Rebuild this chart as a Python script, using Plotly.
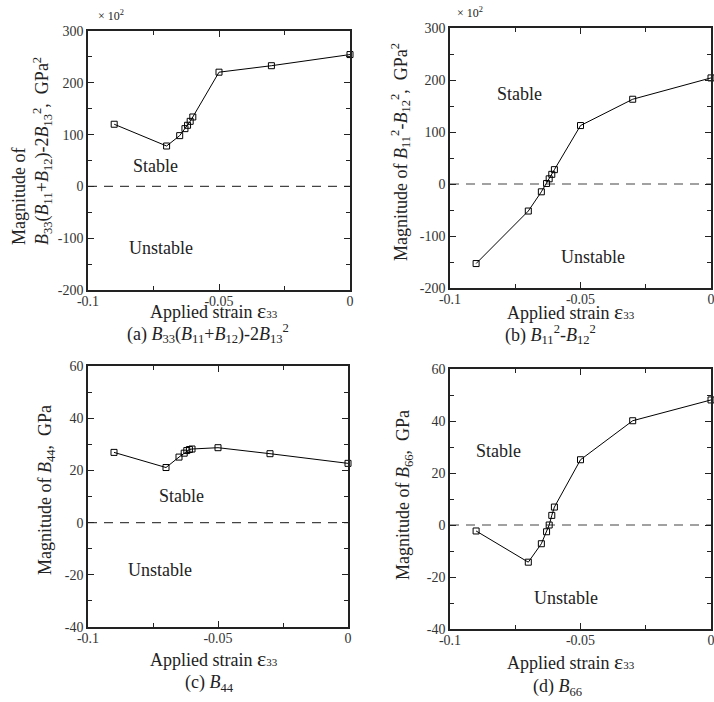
import plotly.graph_objects as go

W, H = 714, 702

# ---- data ----
STRAIN = [-0.09, -0.07, -0.065, -0.063, -0.062, -0.061, -0.06, -0.05, -0.03, 0.0]
VAL_A = [120, 78, 98, 111.5, 118, 125.6, 134, 220.5, 233, 254.5]        # x10^2 GPa^2
VAL_B = [-153, -52, -15, 1, 10, 18.6, 27.6, 112.4, 163, 204]             # x10^2 GPa^2
VAL_C = [26.9, 21.1, 25.1, 26.6, 27.6, 28.0, 28.2, 28.7, 26.4, 22.7]     # GPa
VAL_D = [-2.3, -14.3, -7.2, -2.6, 0.0, 3.7, 6.9, 25.1, 40.1, 48.1]       # GPa
ZERO_X = [-0.1, 0.0]
ZERO_Y = [0, 0]

X_TICKS = [-0.1, -0.05, 0]
X_TICK_TEXT = ["-0.1", "-0.05", "0"]
Y_TICKS_AB = [-200, -100, 0, 100, 200, 300]
Y_TICK_TEXT_AB = ["-200", "-100", "0", "100", "200", "300"]
Y_TICKS_CD = [-40, -20, 0, 20, 40, 60]
Y_TICK_TEXT_CD = ["-40", "-20", "0", "20", "40", "60"]

FONT = "Liberation Serif"
AX = "#222222"

# panel pixel rectangles (left, top, right, bottom)
PANELS = [
    ("x", "y", (88, 31, 350, 290), VAL_A, [-200, 300], Y_TICKS_AB, Y_TICK_TEXT_AB, 50),
    ("x2", "y2", (450, 28, 711, 288), VAL_B, [-200, 300], Y_TICKS_AB, Y_TICK_TEXT_AB, 50),
    ("x3", "y3", (88, 366, 348, 627), VAL_C, [-40, 60], Y_TICKS_CD, Y_TICK_TEXT_CD, 10),
    ("x4", "y4", (450, 369, 711, 629), VAL_D, [-40, 60], Y_TICKS_CD, Y_TICK_TEXT_CD, 10),
]

fig = go.Figure()
layout = dict(
    width=W, height=H, margin=dict(l=0, r=0, t=0, b=0, autoexpand=False),
    paper_bgcolor="white", plot_bgcolor="white", showlegend=False,
    font=dict(family=FONT, color="#222"),
)

for xa, ya, (l, t, r, b), vals, yr, yt, ytt, ymin in PANELS:
    fig.add_trace(go.Scatter(x=ZERO_X, y=ZERO_Y, xaxis=xa, yaxis=ya, mode="lines",
                             line=dict(color="#444", width=1.2, dash="9px,7px"),
                             hoverinfo="skip"))
    fig.add_trace(go.Scatter(x=STRAIN, y=vals, xaxis=xa, yaxis=ya, mode="lines+markers",
                             line=dict(color="black", width=1),
                             marker=dict(symbol="square-open", size=6,
                                         color="black", line=dict(width=1, color="black")),
                             cliponaxis=False))
    xkey = "xaxis" + xa[1:]
    ykey = "yaxis" + ya[1:]
    layout[xkey] = dict(
        domain=[l / W, r / W], anchor=ya, range=[-0.1, 0], automargin=False,
        tickvals=X_TICKS, ticktext=X_TICK_TEXT, ticklabelstandoff=-3,
        ticklabeloverflow="allow",
        ticks="inside", ticklen=6, tickwidth=1.2, tickcolor=AX,
        minor=dict(dtick=0.025, tick0=0, ticks="inside", ticklen=4, tickwidth=1, tickcolor=AX),
        showline=True, linecolor=AX, linewidth=1.5, mirror="ticks",
        showgrid=False, zeroline=False,
        tickfont=dict(family=FONT, size=14, color="#333"),
    )
    layout[ykey] = dict(
        domain=[1 - b / H, 1 - t / H], anchor=xa, range=yr, automargin=False,
        tickvals=yt, ticktext=ytt, ticklabeloverflow="allow",
        ticks="inside", ticklen=6, tickwidth=1.2, tickcolor=AX,
        minor=dict(dtick=ymin, tick0=0, ticks="inside", ticklen=4, tickwidth=1, tickcolor=AX),
        showline=True, linecolor=AX, linewidth=1.5, mirror="ticks",
        showgrid=False, zeroline=False,
        tickfont=dict(family=FONT, size=14, color="#333"),
    )

fig.update_layout(**layout)

def ann(text, px, py, size=18, angle=0, align="center", color="#222"):
    fig.add_annotation(text=text, x=px / W, y=1 - py / H, xref="paper", yref="paper",
                       showarrow=False, xanchor="center", yanchor="middle",
                       textangle=angle, align=align,
                       font=dict(family=FONT, size=size, color=color))

NB = "\u00a0"
XT = "Applied strain " + "<span style='font-size:22px'>ε</span><span style='font-size:11px'>33</span>"

# x-axis titles
ann(XT, 214, 310)
ann(XT, 571, 311)
ann(XT, 214, 658)
ann(XT, 571, 661)

# captions
ann("(a) <i>B</i><sub>33</sub>(<i>B</i><sub>11</sub>+<i>B</i><sub>12</sub>)-2<i>B</i><sub>13</sub><sup>2</sup>", 208, 333)
ann("(b) <i>B</i><sub>11</sub><sup>2</sup>-<i>B</i><sub>12</sub><sup>2</sup>", 550, 335)
ann("(c) <i>B</i><sub>44</sub>", 209, 683)
ann("(d) <i>B</i><sub>66</sub>", 557, 687)

# y-axis titles
ann("Magnitude of<br><i>B</i><sub>33</sub>(<i>B</i><sub>11</sub>+<i>B</i><sub>12</sub>)-2<i>B</i><sub>13</sub><sup>2</sup>," + NB * 2 + "GPa<sup>2</sup>",
    32, 151, angle=-90, align="left")
ann("Magnitude of <i>B</i><sub>11</sub><sup>2</sup>-<i>B</i><sub>12</sub><sup>2</sup>," + NB * 2 + "GPa<sup>2</sup>",
    401, 152, angle=-90)
ann("Magnitude of <i>B</i><sub>44</sub>," + NB * 2 + "GPa", 46, 490, angle=-90)
ann("Magnitude of <i>B</i><sub>66</sub>," + NB * 2 + "GPa", 404, 495, angle=-90)

# multipliers
ann("× 10<sup>2</sup>", 111, 15, size=12)
ann("× 10<sup>2</sup>", 470, 12, size=12)

# region labels
ann("Stable", 155, 166)
ann("Unstable", 161, 248)
ann("Stable", 519, 94)
ann("Unstable", 593, 257)
ann("Stable", 181, 496)
ann("Unstable", 160, 570)
ann("Stable", 498, 451)
ann("Unstable", 566, 598)

fig.write_html("out.html", config={"displayModeBar": False},
               post_script="document.body.style.margin='0px';document.body.style.overflow='hidden';")
